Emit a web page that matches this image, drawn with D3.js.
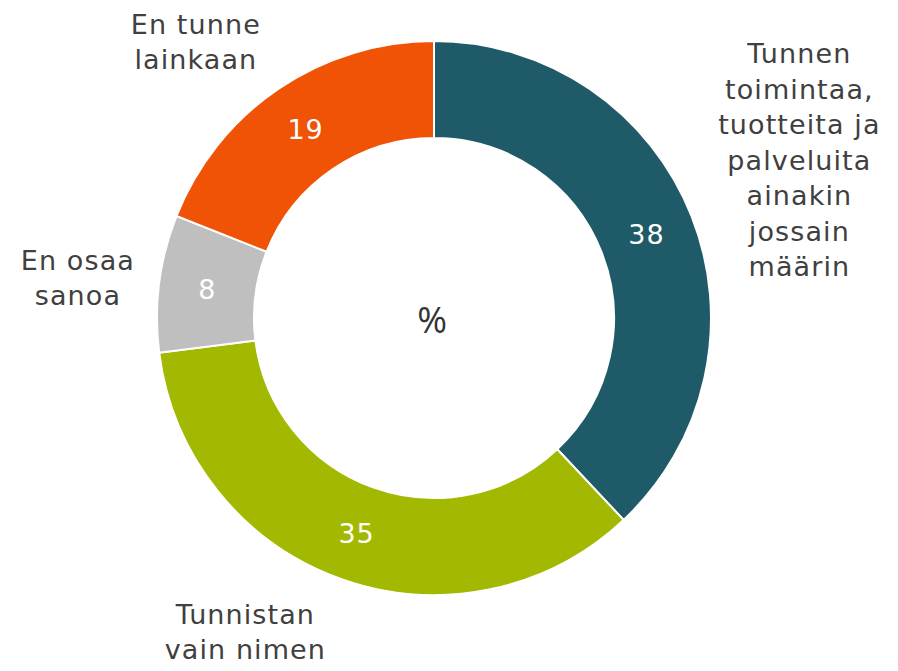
<!DOCTYPE html>
<html>
<head>
<meta charset="utf-8">
<script src="https://cdn.jsdelivr.net/npm/d3@7"></script>
<style>
  body { margin: 0; background: #fff; }
  svg { display: block; }
</style>
</head>
<body>
<svg id="chart"></svg>
<script>
// data
var categories = ['Tunnen toimintaa, tuotteita ja palveluita ainakin jossain määrin', 'Tunnistan vain nimen', 'En osaa sanoa', 'En tunne lainkaan']
var values = [38, 35, 8, 19]
var labelLines = [
  ['Tunnen', 'toimintaa,', 'tuotteita ja', 'palveluita', 'ainakin', 'jossain', 'määrin'],
  ['Tunnistan', 'vain nimen'],
  ['En osaa', 'sanoa'],
  ['En tunne', 'lainkaan']
]
var colors = ['#1f5a68', '#a3b800', '#bfbfbf', '#f05306']

var width = 898
var height = 671
var cx = 434
var cy = 318
var outerR = 277
var innerR = 180
var labelR = 365
var lineH = 35.5
// hand nudges so the outside labels sit where the original has them
var nudge = [[26, -24], [-65, -30], [6, 5], [-33, 25.5]]

var svg = d3.select('#chart').attr('width', width).attr('height', height)

var g = svg.append('g').attr('transform', `translate(${cx},${cy})`)

var pie = d3.pie().sort(null).value(d => d)
var arcs = pie(values)

var arc = d3.arc().innerRadius(innerR).outerRadius(outerR)
var labelArc = d3.arc().innerRadius(labelR).outerRadius(labelR)

g.selectAll('path')
  .data(arcs)
  .enter()
  .append('path')
  .attr('d', arc)
  .attr('fill', (d, i) => colors[i])
  .attr('stroke', '#fff')
  .attr('stroke-width', 2)

g.selectAll('.value')
  .data(arcs)
  .enter()
  .append('text')
  .attr('class', 'value')
  .attr('transform', d => `translate(${arc.centroid(d)})`)
  .attr('text-anchor', 'middle')
  .attr('dy', '0.36em')
  .attr('fill', '#fff')
  .style('font-family', 'Verdana, "DejaVu Sans", sans-serif')
  .style('font-size', '27px')
  .style('letter-spacing', '1px')
  .text(d => d.value)

var labels = g.selectAll('.label')
  .data(arcs)
  .enter()
  .append('text')
  .attr('class', 'label')
  .attr('transform', (d, i) => {
    var c = labelArc.centroid(d)
    return `translate(${c[0] + nudge[i][0]},${c[1] + nudge[i][1]})`
  })
  .attr('text-anchor', 'middle')
  .attr('fill', '#404040')
  .style('font-family', 'Verdana, "DejaVu Sans", sans-serif')
  .style('font-size', '27px')
  .style('letter-spacing', '1.1px')

labels.each(function(d, i) {
  var lines = labelLines[i]
  d3.select(this)
    .selectAll('tspan')
    .data(lines)
    .enter()
    .append('tspan')
    .attr('x', 0)
    .attr('y', (t, j) => (j - (lines.length - 1) / 2) * lineH + 10)
    .text(t => t)
})

g.append('text')
  .attr('text-anchor', 'middle')
  .attr('y', 15)
  .attr('x', -2)
  .attr('fill', '#333')
  .style('font-family', '"Open Sans", sans-serif')
  .style('font-size', '36px')
  .text('%')
</script>
</body>
</html>
